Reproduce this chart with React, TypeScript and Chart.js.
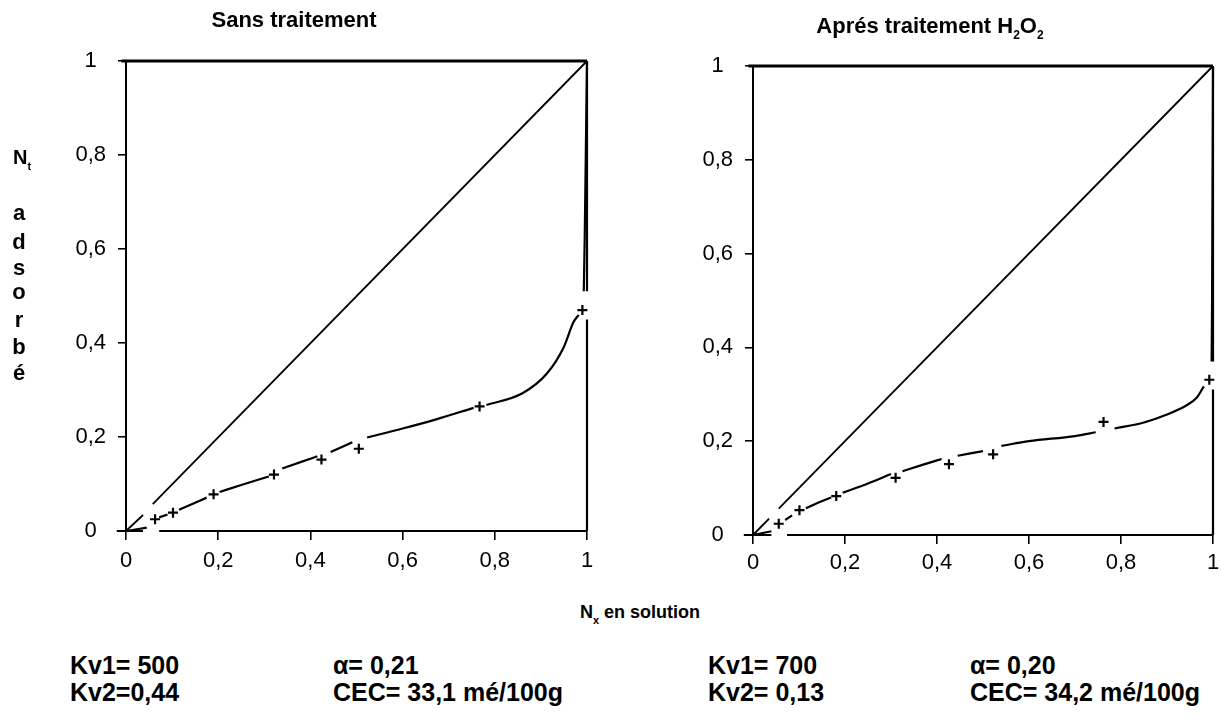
import React, { useEffect, useRef } from 'react';
import { Chart, registerables } from 'chart.js';

Chart.register(...registerables);

// ---------- data ----------
const tickValues = [0, 0.2, 0.4, 0.6, 0.8, 1];
const tickLabels = ['0', '0,2', '0,4', '0,6', '0,8', '1'];

// "Sans traitement" panel
const sansPointsX = [0.063, 0.102, 0.19, 0.321, 0.424, 0.505, 0.767, 0.99];
const sansPointsY = [0.025, 0.039, 0.078, 0.12, 0.152, 0.175, 0.265, 0.47];
const sansCurveX = [0, 0.045, null, 0.072, 0.09, null, 0.115, 0.145, 0.175, null, 0.203, 0.25, 0.31, null, 0.339, 0.38, 0.415, null, 0.444, 0.491, null, 0.523, 0.6, 0.671, 0.754, null, 0.782, 0.86, 0.913, 0.949, 0.971, 0.982, null, 0.993, 0.995, 0.998, 1];
const sansCurveY = [0, 0.007, null, 0.029, 0.035, null, 0.045, 0.058, 0.071, null, 0.083, 0.098, 0.116, null, 0.133, 0.147, 0.159, null, 0.168, 0.189, null, 0.199, 0.218, 0.237, 0.262, null, 0.268, 0.293, 0.335, 0.39, 0.445, 0.46, null, 0.51, 0.62, 0.85, 1];
const sansDiagX = [0, 0.037, null, 0.058, 1];
const sansDiagY = [0, 0.034, null, 0.057, 1];
const sansFrameBottomX = [-0.02, 0.037, null, 0.072, 1];
const sansFrameRightY = [0, 0.45, null, 0.51, 1];

// "Aprés traitement H2O2" panel
const apresPointsX = [0.056, 0.101, 0.181, 0.31, 0.426, 0.522, 0.762, 0.992];
const apresPointsY = [0.024, 0.053, 0.083, 0.122, 0.151, 0.172, 0.241, 0.331];
const apresCurveX = [0, 0.04, null, 0.07, 0.085, null, 0.115, 0.14, 0.17, null, 0.195, 0.25, 0.3, null, 0.325, 0.37, 0.41, null, 0.445, 0.5, null, 0.54, 0.6, 0.7, 0.745, null, 0.786, 0.85, 0.9, 0.94, 0.965, 0.98, null, 0.997, 0.998, 1];
const apresCurveY = [0, 0.008, null, 0.032, 0.042, null, 0.057, 0.068, 0.08, null, 0.09, 0.11, 0.13, null, 0.136, 0.15, 0.162, null, 0.169, 0.179, null, 0.19, 0.2, 0.211, 0.219, null, 0.227, 0.24, 0.257, 0.275, 0.293, 0.317, null, 0.37, 0.5, 1];
const apresDiagX = [0, 0.035, null, 0.056, 1];
const apresDiagY = [0, 0.035, null, 0.056, 1];
const apresFrameBottomX = [-0.02, 0.04, null, 0.074, 1];
const apresFrameRightY = [0, 0.31, null, 0.37, 1];

const FONT = '"Liberation Sans", Arial, Helvetica, sans-serif';

type N = number | null;
const pts = (xs: N[], ys: N[]) => xs.map((x, i) => ({ x, y: ys[i] }));

interface PanelDef {
  pointsX: number[];
  pointsY: number[];
  curveX: N[];
  curveY: N[];
  diagX: N[];
  diagY: N[];
  frameBottomX: N[];
  frameRightY: N[];
  padding: { left: number; right: number; top: number; bottom: number };
  xPad: number;
}

const line = (data: any[], width: number, extra: any = {}) => ({
  data,
  showLine: true,
  borderColor: '#000',
  borderWidth: width,
  pointRadius: 0,
  spanGaps: false,
  clip: false,
  ...extra,
});

function makeConfig(p: PanelDef): any {
  const zeroes = p.frameBottomX.map((v) => (v === null ? null : 0));
  const ones = p.frameRightY.map((v) => (v === null ? null : 1));
  return {
    type: 'scatter',
    data: {
      datasets: [
        line(pts(p.frameBottomX, zeroes), 2.2),
        line(pts(ones, p.frameRightY), 2.2),
        line(pts([-0.01, 1], [1, 1]), 2.8),
        line(pts([0, 0], [0, 1]), 2),
        line(pts(p.diagX, p.diagY), 1.8),
        line(pts(p.curveX, p.curveY), 2.2, { cubicInterpolationMode: 'monotone' }),
        {
          data: pts(p.pointsX, p.pointsY),
          showLine: false,
          pointStyle: 'cross',
          pointRadius: 5,
          pointBorderWidth: 2.2,
          borderColor: '#000',
          backgroundColor: '#000',
          clip: false,
        },
      ],
    },
    options: {
      animation: false,
      responsive: false,
      maintainAspectRatio: false,
      devicePixelRatio: 1,
      events: [],
      layout: { padding: p.padding },
      plugins: { legend: { display: false }, tooltip: { enabled: false }, title: { display: false } },
      scales: {
        x: {
          type: 'linear',
          min: 0,
          max: 1,
          afterBuildTicks: (s: any) => {
            s.ticks = tickValues.map((v) => ({ value: v }));
          },
          afterFit: (s: any) => {
            s.height = 50;
          },
          ticks: {
            callback: (_v: any, i: number) => tickLabels[i],
            color: '#000',
            font: { family: FONT, size: 22 },
            padding: p.xPad,
            maxRotation: 0,
            autoSkip: false,
          },
          grid: { drawOnChartArea: false, drawTicks: true, tickLength: 9, color: '#000', lineWidth: 1.6 },
          border: { display: false },
        },
        y: {
          type: 'linear',
          min: 0,
          max: 1,
          afterBuildTicks: (s: any) => {
            s.ticks = tickValues.map((v) => ({ value: v }));
          },
          afterFit: (s: any) => {
            s.width = 100;
          },
          ticks: {
            callback: (_v: any, i: number) => tickLabels[i],
            color: '#000',
            font: { family: FONT, size: 22 },
            padding: 12,
            crossAlign: 'center',
            autoSkip: false,
          },
          grid: { drawOnChartArea: false, drawTicks: true, tickLength: 8, color: '#000', lineWidth: 1.6 },
          border: { display: false },
        },
      },
    },
  };
}

const sansPanel: PanelDef = {
  pointsX: sansPointsX,
  pointsY: sansPointsY,
  curveX: sansCurveX,
  curveY: sansCurveY,
  diagX: sansDiagX,
  diagY: sansDiagY,
  frameBottomX: sansFrameBottomX,
  frameRightY: sansFrameRightY,
  padding: { left: 26, right: 33, top: 61, bottom: 9 },
  xPad: 8,
};

const apresPanel: PanelDef = {
  pointsX: apresPointsX,
  pointsY: apresPointsY,
  curveX: apresCurveX,
  curveY: apresCurveY,
  diagX: apresDiagX,
  diagY: apresDiagY,
  frameBottomX: apresFrameBottomX,
  frameRightY: apresFrameRightY,
  padding: { left: 13, right: 27, top: 66, bottom: 5 },
  xPad: 6,
};

function PanelChart({ panel, left, width }: { panel: PanelDef; left: number; width: number }) {
  const ref = useRef<HTMLCanvasElement>(null);
  useEffect(() => {
    const chart = new Chart(ref.current as HTMLCanvasElement, makeConfig(panel));
    return () => chart.destroy();
  }, [panel]);
  return (
    <canvas
      ref={ref}
      width={width}
      height={590}
      style={{ position: 'absolute', left, top: 0, width, height: 590 }}
    />
  );
}

function Txt({ x, y, size, center, children }: { x: number; y: number; size: number; center?: boolean; children: React.ReactNode }) {
  return (
    <div
      style={{
        position: 'absolute',
        left: x,
        top: y - size / 2,
        fontSize: size,
        lineHeight: `${size}px`,
        fontWeight: 'bold',
        fontFamily: FONT,
        whiteSpace: 'nowrap',
        color: '#000',
        transform: center ? 'translateX(-50%)' : undefined,
      }}
    >
      {children}
    </div>
  );
}

const sub = (t: string, size = 12) => (
  <span style={{ fontSize: size, position: 'relative', top: 6 }}>{t}</span>
);

const yLetters = ['a', 'd', 's', 'o', 'r', 'b', 'é'];
const yLetterY = [213, 242, 268, 292, 320, 347, 373];

export default function App() {
  return (
    <div
      style={{
        position: 'absolute',
        left: 0,
        top: 0,
        width: 1221,
        height: 718,
        overflow: 'hidden',
        background: '#fff',
      }}
    >
      <PanelChart panel={sansPanel} left={0} width={620} />
      <PanelChart panel={apresPanel} left={640} width={600} />

      <Txt x={294} y={20} size={22} center>
        Sans traitement
      </Txt>
      <Txt x={930} y={26} size={22} center>
        Aprés traitement H{sub('2')}O{sub('2')}
      </Txt>

      <Txt x={13} y={157} size={20}>
        N{sub('t', 11)}
      </Txt>
      {yLetters.map((l, i) => (
        <Txt key={i} x={19} y={yLetterY[i]} size={22} center>
          {l}
        </Txt>
      ))}

      <Txt x={640} y={612} size={18} center>
        N{sub('x', 11)} en solution
      </Txt>

      <Txt x={70} y={665} size={25}>Kv1= 500</Txt>
      <Txt x={70} y={692} size={25}>Kv2=0,44</Txt>
      <Txt x={333} y={665} size={25}>α= 0,21</Txt>
      <Txt x={333} y={692} size={25}>CEC= 33,1 mé/100g</Txt>
      <Txt x={708} y={665} size={25}>Kv1= 700</Txt>
      <Txt x={708} y={692} size={25}>Kv2= 0,13</Txt>
      <Txt x={970} y={665} size={25}>α= 0,20</Txt>
      <Txt x={970} y={692} size={25}>CEC= 34,2 mé/100g</Txt>
    </div>
  );
}
